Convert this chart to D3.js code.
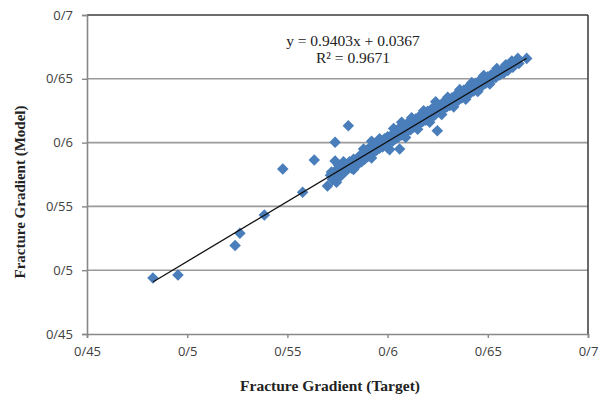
<!DOCTYPE html>
<html>
<head>
<meta charset="utf-8">
<script src="https://cdn.jsdelivr.net/npm/d3@7"></script>
<style>
  body { margin: 0; background: #fff; }
  svg { display: block; }
</style>
</head>
<body>
<svg id="chart" width="605" height="396"></svg>
<script>
// ticks, labels use "/" as decimal mark like the original
const xTicks = [0.45, 0.5, 0.55, 0.6, 0.65, 0.7];
const yTicks = [0.45, 0.5, 0.55, 0.6, 0.65, 0.7];
const tickLabels = ["0/45", "0/5", "0/55", "0/6", "0/65", "0/7"];

const slope = 0.9403;
const intercept = 0.0367;
const rSquared = 0.9671;

// target (x) vs model (y)
const targetVals = [
  0.4829, 0.4954, 0.5239, 0.5263, 0.5385, 0.5477, 0.5576, 0.5634, 0.5738, 0.5804, 0.5738, 0.6248,
  0.5700, 0.5715, 0.5725, 0.5740, 0.5750, 0.5760, 0.5770, 0.5785, 0.5790, 0.5800,
  0.5810, 0.5820, 0.5830, 0.5835, 0.5850, 0.5855, 0.5865, 0.5870, 0.5880, 0.5885,
  0.5895, 0.5900, 0.5910, 0.5915, 0.5920, 0.5930, 0.5940, 0.5945, 0.5955, 0.5960,
  0.5970, 0.5975, 0.5985, 0.5990, 0.6000, 0.6005, 0.6010, 0.6020, 0.6025, 0.6035,
  0.6040, 0.6050, 0.6055, 0.6060, 0.6065, 0.6070, 0.6080, 0.6085, 0.6095, 0.6100,
  0.6110, 0.6115, 0.6125, 0.6130, 0.6140, 0.6145, 0.6155, 0.6160, 0.6170, 0.6175,
  0.6185, 0.6190, 0.6200, 0.6205, 0.6215, 0.6220, 0.6230, 0.6235, 0.6245, 0.6250,
  0.6260, 0.6265, 0.6275, 0.6280, 0.6290, 0.6295, 0.6305, 0.6310, 0.6320, 0.6325,
  0.6335, 0.6340, 0.6350, 0.6355, 0.6365, 0.6370, 0.6380, 0.6385, 0.6395, 0.6400,
  0.6410, 0.6415, 0.6425, 0.6430, 0.6440, 0.6445, 0.6455, 0.6460, 0.6470, 0.6475,
  0.6485, 0.6490, 0.6500, 0.6505, 0.6515, 0.6520, 0.6530, 0.6540, 0.6550, 0.6560,
  0.6570, 0.6580, 0.6590, 0.6600, 0.6615, 0.6625, 0.6640, 0.6655, 0.6694,
  0.5780, 0.5830, 0.5880, 0.5920, 0.5960, 0.6000, 0.6030, 0.6070, 0.6090, 0.6120,
  0.6150, 0.6180, 0.6210, 0.6240, 0.6270, 0.6300, 0.6330, 0.6360, 0.6390, 0.6420,
  0.6450, 0.6480, 0.6510, 0.6545, 0.6590, 0.6620, 0.6650, 0.5745, 0.5720, 0.5755
];
const modelVals = [
  0.4939, 0.4962, 0.5193, 0.5289, 0.5433, 0.5793, 0.5611, 0.5864, 0.6002, 0.6132, 0.5856, 0.6093,
  0.5660, 0.5745, 0.5710, 0.5780, 0.5720, 0.5800, 0.5745, 0.5770, 0.5830, 0.5790,
  0.5850, 0.5800, 0.5870, 0.5820, 0.5880, 0.5835, 0.5900, 0.5850, 0.5925, 0.5870,
  0.5940, 0.5890, 0.5960, 0.5905, 0.6010, 0.5925, 0.5980, 0.5940, 0.6000, 0.5955,
  0.6015, 0.5965, 0.6030, 0.5985, 0.6045, 0.6000, 0.5945, 0.6060, 0.6010, 0.6080,
  0.6030, 0.6100, 0.6045, 0.5950, 0.6120, 0.6060, 0.6130, 0.6075, 0.6145, 0.6090,
  0.6155, 0.6100, 0.6170, 0.6120, 0.6185, 0.6135, 0.6200, 0.6150, 0.6215, 0.6165,
  0.6230, 0.6175, 0.6245, 0.6190, 0.6255, 0.6200, 0.6275, 0.6215, 0.6300, 0.6240,
  0.6290, 0.6255, 0.6310, 0.6265, 0.6320, 0.6280, 0.6335, 0.6290, 0.6350, 0.6305,
  0.6365, 0.6320, 0.6385, 0.6335, 0.6395, 0.6350, 0.6410, 0.6365, 0.6425, 0.6375,
  0.6440, 0.6390, 0.6450, 0.6405, 0.6465, 0.6420, 0.6480, 0.6435, 0.6490, 0.6450,
  0.6505, 0.6465, 0.6515, 0.6480, 0.6530, 0.6495, 0.6545, 0.6510, 0.6555, 0.6530,
  0.6570, 0.6545, 0.6585, 0.6565, 0.6600, 0.6590, 0.6640, 0.6620, 0.6660,
  0.5850, 0.5790, 0.5950, 0.5880, 0.6030, 0.5960, 0.6110, 0.6160, 0.6040, 0.6195,
  0.6105, 0.6250, 0.6160, 0.6320, 0.6220, 0.6355, 0.6280, 0.6415, 0.6340, 0.6470,
  0.6400, 0.6525, 0.6460, 0.6580, 0.6610, 0.6640, 0.6660, 0.5690, 0.5770, 0.5825
];

const margin = {top: 15, right: 17, bottom: 62, left: 87};
const width = 605 - margin.left - margin.right;
const height = 396 - margin.top - margin.bottom;

const svg = d3.select("#chart");
const g = svg.append("g").attr("transform", `translate(${margin.left},${margin.top})`);

const x = d3.scaleLinear().domain([0.45, 0.7]).range([0, width]);
const y = d3.scaleLinear().domain([0.45, 0.7]).range([height, 0]);

// gridlines
g.append("g")
  .selectAll("line")
  .data(yTicks.slice(1))
  .join("line")
  .attr("x1", 0).attr("x2", width)
  .attr("y1", d => y(d)).attr("y2", d => y(d))
  .attr("stroke", "#9a9a9a")
  .attr("stroke-width", 1.6);

// plot border top / right
g.append("line").attr("x1", 0).attr("x2", width).attr("y1", 0).attr("y2", 0)
  .attr("stroke", "#555").attr("stroke-width", 1.6);
g.append("line").attr("x1", width).attr("x2", width).attr("y1", 0).attr("y2", height)
  .attr("stroke", "#444").attr("stroke-width", 1.6);

const fmt = d => tickLabels[xTicks.indexOf(d)];

const xAxis = g.append("g")
  .attr("transform", `translate(0,${height})`)
  .call(d3.axisBottom(x).tickValues(xTicks).tickFormat(fmt).tickSize(4).tickPadding(9));
const yAxis = g.append("g")
  .call(d3.axisLeft(y).tickValues(yTicks).tickFormat(d => tickLabels[yTicks.indexOf(d)]).tickSize(5).tickPadding(9));

[xAxis, yAxis].forEach(a => {
  a.select(".domain").attr("stroke", "#888").attr("stroke-width", 1.6);
  a.selectAll(".tick line").attr("stroke", "#888").attr("stroke-width", 1.4);
  a.selectAll(".tick text")
    .attr("fill", "#404040")
    .style("font-family", "'Open Sans', sans-serif")
    .style("font-size", "13px");
});

// points
const pts = targetVals.map((v, i) => [v, modelVals[i]]);
const diamond = d3.symbol().type(d3.symbolDiamond2).size(85);
g.append("g")
  .selectAll("path")
  .data(pts)
  .join("path")
  .attr("transform", d => `translate(${x(d[0])},${y(d[1])})`)
  .attr("d", diamond)
  .attr("fill", "#4a7ebb");

// trendline
const xExt = d3.extent(targetVals);
g.append("line")
  .attr("x1", x(xExt[0])).attr("y1", y(slope * xExt[0] + intercept))
  .attr("x2", x(xExt[1])).attr("y2", y(slope * xExt[1] + intercept))
  .attr("stroke", "#111")
  .attr("stroke-width", 1.3);

// equation
const eq = g.append("text")
  .attr("text-anchor", "middle")
  .style("font-family", "'Liberation Serif', serif")
  .style("font-size", "15.5px")
  .attr("fill", "#222");
eq.append("tspan").attr("x", 266).attr("y", 31)
  .text(`y = ${slope}x + ${intercept}`);
eq.append("tspan").attr("x", 266).attr("y", 48)
  .text(`R² = ${rSquared}`);

// axis titles
svg.append("text")
  .attr("x", 330).attr("y", 391)
  .attr("text-anchor", "middle")
  .style("font-family", "'Liberation Serif', serif")
  .style("font-weight", "bold")
  .style("font-size", "15.5px")
  .attr("fill", "#222")
  .text("Fracture Gradient (Target)");

svg.append("text")
  .attr("transform", "translate(25,192) rotate(-90)")
  .attr("text-anchor", "middle")
  .style("font-family", "'Liberation Serif', serif")
  .style("font-weight", "bold")
  .style("font-size", "15px")
  .attr("fill", "#222")
  .text("Fracture Gradient (Model)");
</script>
</body>
</html>
